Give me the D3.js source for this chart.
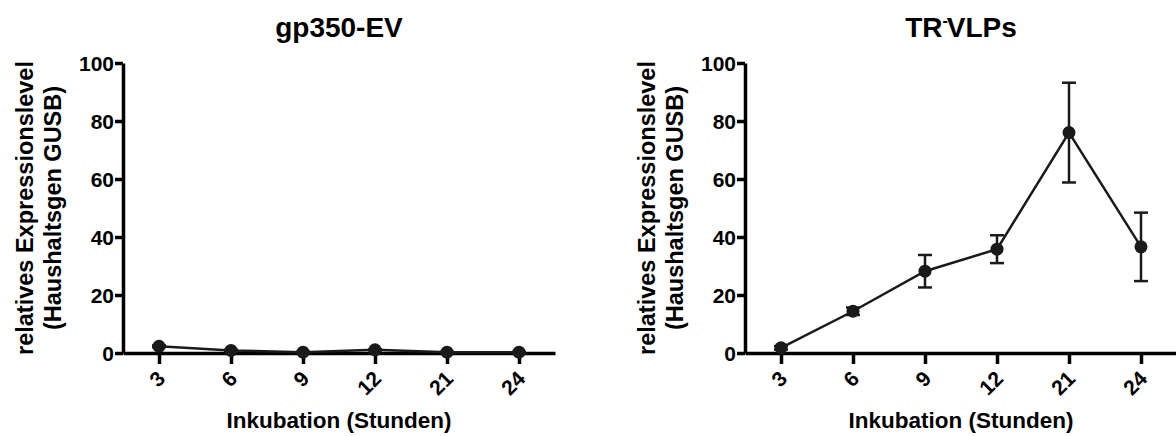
<!DOCTYPE html>
<html lang="de">
<head>
  <meta charset="UTF-8" />
  <title>Expressionslevel gp350-EV / TR-VLPs</title>
  <style>
    body { margin: 0; background: #fff; }
    svg text { font-family: "Liberation Sans", Arial, Helvetica, sans-serif; font-weight: bold; fill: #000; }
    .axis path, .axis line { stroke: #000; stroke-width: 3.5; }
    .axis text { font-size: 21px; }
  </style>
</head>
<body>
  <svg id="chart" width="1176" height="436"></svg>

  <script src="https://d3js.org/d3.v7.min.js"></script>
  <script>
    // Stunden
    const hours = ["3", "6", "9", "12", "21", "24"];
    const yTicks = [0, 20, 40, 60, 80, 100];

    // gp350-EV
    const evMean = [2.3, 0.9, 0.3, 1.1, 0.3, 0.3];
    const evErr = [0.3, 0.2, 0.1, 0.2, 0.1, 0.1];

    // TR- VLPs
    const vlpMean = [1.8, 14.4, 28.2, 35.8, 76.0, 36.6];
    const vlpErr = [0.6, 1.3, 5.6, 4.8, 17.2, 11.8];

    const svg = d3.select("#chart");
    const plotTop = 63, plotBottom = 353, axisWidth = 432;

    const y = d3.scaleLinear().domain([0, 100]).range([plotBottom, plotTop]);

    function drawPanel(left, mean, err, titleFn) {
      const g = svg.append("g");
      const x = d3.scalePoint()
        .domain(hours)
        .range([left, left + axisWidth])
        .padding(0.5);
      const cx = left + axisWidth / 2;

      // title
      titleFn(g.append("text")
        .attr("x", cx)
        .attr("y", 37)
        .attr("text-anchor", "middle")
        .attr("font-size", "28px"));

      // y axis
      g.append("g")
        .attr("class", "axis")
        .attr("transform", `translate(${left},0)`)
        .call(d3.axisLeft(y).tickValues(yTicks).tickSize(8).tickSizeOuter(0).tickPadding(1))
        .selectAll("text")
        .attr("dy", "0.36em");

      // x axis
      g.append("g")
        .attr("class", "axis")
        .attr("transform", `translate(0,${plotBottom})`)
        .call(d3.axisBottom(x).tickSize(11).tickSizeOuter(0))
        .selectAll("text")
        .attr("x", 0)
        .attr("y", 0)
        .attr("dy", 0)
        .attr("transform", "translate(7,27) rotate(-45)")
        .style("text-anchor", "end");

      // axis titles
      const yl = g.append("text")
        .attr("transform", `translate(${left - 90},${(plotTop + plotBottom) / 2}) rotate(-90)`)
        .attr("text-anchor", "middle")
        .attr("font-size", "23.5px");
      yl.append("tspan").attr("x", 0).attr("y", 0).text("relatives Expressionslevel");
      yl.append("tspan").attr("x", 0).attr("y", 28).text("(Haushaltsgen GUSB)");

      g.append("text")
        .attr("x", cx)
        .attr("y", 428)
        .attr("text-anchor", "middle")
        .attr("font-size", "22.5px")
        .text("Inkubation (Stunden)");

      const data = hours.map((h, i) => ({ h, v: mean[i], e: err[i] }));

      // error bars
      const eb = g.append("g").attr("stroke", "#1a1a1a").attr("stroke-width", 2.5);
      data.forEach(d => {
        const px = x(d.h);
        eb.append("line").attr("x1", px).attr("x2", px)
          .attr("y1", y(d.v - d.e)).attr("y2", y(d.v + d.e));
        [d.v - d.e, d.v + d.e].forEach(v => {
          eb.append("line").attr("x1", px - 7).attr("x2", px + 7)
            .attr("y1", y(v)).attr("y2", y(v));
        });
      });

      // line
      g.append("path")
        .datum(data)
        .attr("fill", "none")
        .attr("stroke", "#1a1a1a")
        .attr("stroke-width", 2.5)
        .attr("d", d3.line().x(d => x(d.h)).y(d => y(d.v)));

      // points
      g.selectAll(".dot")
        .data(data)
        .join("circle")
        .attr("class", "dot")
        .attr("cx", d => x(d.h))
        .attr("cy", d => y(d.v))
        .attr("r", 6.5)
        .attr("fill", "#1a1a1a");
    }

    drawPanel(123, evMean, evErr, t => t.text("gp350-EV"));
    drawPanel(745, vlpMean, vlpErr, t => {
      t.append("tspan").text("TR");
      t.append("tspan").attr("dy", -11).attr("font-size", "16px").text("-");
      t.append("tspan").attr("dy", 11).attr("dx", -1).text("VLPs");
    });
  </script>
</body>
</html>
